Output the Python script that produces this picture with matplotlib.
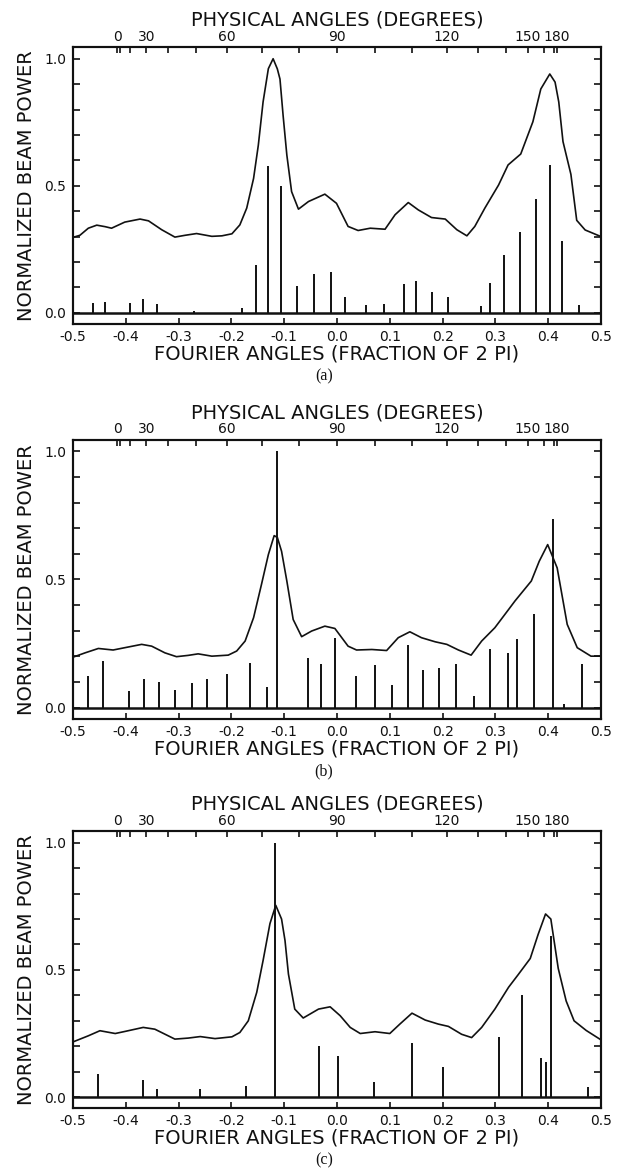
import numpy as np
import matplotlib
matplotlib.use("Agg")
import matplotlib.pyplot as plt

# ---------------- data ----------------
fourier_ticks = [-0.5, -0.4, -0.3, -0.2, -0.1, 0.0, 0.1, 0.2, 0.3, 0.4, 0.5]
fourier_labels = ["-0.5", "-0.4", "-0.3", "-0.2", "-0.1", "0.0", "0.1", "0.2", "0.3", "0.4", "0.5"]
power_ticks = [0.0, 0.5, 1.0]
power_labels = ["0.0", "0.5", "1.0"]
phys_major = [0, 30, 60, 90, 120, 150, 180]
phys_major_labels = ["0", "30", "60", "90", "120", "150", "180"]
phys_minor = [10, 20, 40, 50, 70, 80, 100, 110, 130, 140, 160, 170]
ELEMENT_SPACING = 5.0 / 12.0   # fourier angle = -spacing * cos(physical angle)

# panel (a)
a_curve_u = [-0.500, -0.487, -0.471, -0.455, -0.439, -0.427, -0.402, -0.373, -0.357, -0.332,
             -0.307, -0.288, -0.266, -0.237, -0.218, -0.199, -0.184, -0.171, -0.158, -0.149,
             -0.140, -0.130, -0.121, -0.113, -0.108, -0.102, -0.095, -0.086, -0.073, -0.054,
             -0.023, -0.001, 0.021, 0.040, 0.063, 0.091, 0.110, 0.135, 0.154, 0.179,
             0.205, 0.227, 0.246, 0.261, 0.280, 0.306, 0.324, 0.348, 0.371, 0.386,
             0.403, 0.413, 0.420, 0.428, 0.443, 0.454, 0.470, 0.500]
a_curve_v = [0.297, 0.305, 0.333, 0.345, 0.339, 0.333, 0.357, 0.369, 0.362, 0.327,
             0.298, 0.305, 0.312, 0.301, 0.303, 0.311, 0.346, 0.412, 0.529, 0.660,
             0.830, 0.961, 1.000, 0.960, 0.920, 0.775, 0.621, 0.477, 0.408, 0.438,
             0.467, 0.431, 0.340, 0.324, 0.333, 0.329, 0.386, 0.434, 0.405, 0.375,
             0.369, 0.327, 0.303, 0.340, 0.412, 0.503, 0.582, 0.625, 0.752, 0.881,
             0.940, 0.908, 0.830, 0.674, 0.545, 0.364, 0.326, 0.300]
a_bar_u = [-0.463, -0.439, -0.392, -0.368, -0.340, -0.271, -0.180, -0.153, -0.130, -0.106,
           -0.075, -0.044, -0.012, 0.015, 0.054, 0.089, 0.127, 0.149, 0.180, 0.211,
           0.273, 0.289, 0.317, 0.347, 0.376, 0.404, 0.427, 0.459]
a_bar_v = [0.040, 0.044, 0.040, 0.053, 0.034, 0.007, 0.020, 0.187, 0.576, 0.498,
           0.107, 0.153, 0.161, 0.064, 0.030, 0.033, 0.115, 0.124, 0.080, 0.064,
           0.025, 0.118, 0.228, 0.317, 0.448, 0.581, 0.283, 0.031]

# panel (b)
b_curve_u = [-0.500, -0.477, -0.452, -0.424, -0.402, -0.370, -0.351, -0.326, -0.304, -0.282,
             -0.263, -0.237, -0.206, -0.190, -0.174, -0.158, -0.143, -0.130, -0.119, -0.113,
             -0.105, -0.095, -0.083, -0.067, -0.048, -0.023, -0.004, 0.021, 0.037, 0.066,
             0.094, 0.116, 0.138, 0.160, 0.186, 0.208, 0.230, 0.254, 0.274, 0.299,
             0.325, 0.337, 0.368, 0.383, 0.399, 0.417, 0.436, 0.455, 0.481, 0.500]
b_curve_v = [0.197, 0.214, 0.231, 0.225, 0.234, 0.247, 0.240, 0.214, 0.199, 0.204,
             0.210, 0.201, 0.205, 0.221, 0.260, 0.351, 0.481, 0.597, 0.671, 0.664,
             0.610, 0.494, 0.344, 0.277, 0.299, 0.318, 0.309, 0.240, 0.225, 0.227,
             0.223, 0.273, 0.296, 0.273, 0.257, 0.247, 0.225, 0.205, 0.260, 0.312,
             0.383, 0.416, 0.494, 0.571, 0.636, 0.545, 0.325, 0.234, 0.201, 0.201]
b_bar_u = [-0.471, -0.444, -0.393, -0.365, -0.338, -0.306, -0.275, -0.247, -0.208, -0.165,
           -0.133, -0.113, -0.054, -0.030, -0.004, 0.036, 0.072, 0.105, 0.135, 0.162,
           0.194, 0.225, 0.260, 0.290, 0.323, 0.341, 0.373, 0.409, 0.430, 0.464]
b_bar_v = [0.123, 0.182, 0.065, 0.113, 0.100, 0.071, 0.097, 0.113, 0.132, 0.173,
           0.082, 1.000, 0.192, 0.171, 0.273, 0.123, 0.165, 0.088, 0.244, 0.149,
           0.153, 0.171, 0.045, 0.230, 0.214, 0.266, 0.364, 0.737, 0.013, 0.171]

# panel (c)
c_curve_u = [-0.500, -0.471, -0.449, -0.420, -0.402, -0.367, -0.345, -0.307, -0.282, -0.259,
             -0.231, -0.199, -0.184, -0.168, -0.152, -0.140, -0.127, -0.116, -0.105, -0.0985,
             -0.092, -0.080, -0.064, -0.035, -0.013, 0.006, 0.025, 0.044, 0.072, 0.100,
             0.119, 0.142, 0.167, 0.192, 0.211, 0.236, 0.255, 0.274, 0.299, 0.325,
             0.343, 0.366, 0.381, 0.395, 0.405, 0.419, 0.434, 0.449, 0.472, 0.500]
c_curve_v = [0.217, 0.241, 0.261, 0.250, 0.258, 0.274, 0.267, 0.228, 0.232, 0.238,
             0.230, 0.237, 0.254, 0.300, 0.412, 0.537, 0.682, 0.754, 0.700, 0.616,
             0.484, 0.346, 0.311, 0.346, 0.355, 0.320, 0.274, 0.250, 0.257, 0.250,
             0.287, 0.330, 0.303, 0.287, 0.278, 0.247, 0.234, 0.274, 0.346, 0.432,
             0.481, 0.545, 0.640, 0.720, 0.700, 0.506, 0.378, 0.300, 0.262, 0.225]
c_bar_u = [-0.452, -0.368, -0.341, -0.259, -0.173, -0.117, -0.034, 0.001, 0.070, 0.142,
           0.200, 0.307, 0.351, 0.387, 0.396, 0.405, 0.475]
c_bar_v = [0.090, 0.067, 0.033, 0.033, 0.043, 1.000, 0.199, 0.162, 0.058, 0.214,
           0.120, 0.237, 0.403, 0.152, 0.139, 0.634, 0.039]

captions = ["(a)", "(b)", "(c)"]
top_title = "PHYSICAL ANGLES (DEGREES)"
bottom_title = "FOURIER ANGLES (FRACTION OF 2 PI)"
y_title = "NORMALIZED BEAM POWER"

panels = [
    (a_curve_u, a_curve_v, a_bar_u, a_bar_v),
    (b_curve_u, b_curve_v, b_bar_u, b_bar_v),
    (c_curve_u, c_curve_v, c_bar_u, c_bar_v),
]

# ---------------- layout ----------------
W, H = 629, 1173
fig = plt.figure(figsize=(W / 100, H / 100), dpi=100)
plt.rcParams["font.family"] = ["DejaVu Sans"]

left_px, right_px = 73, 601
tops_px = [47.3, 439.7, 831.3]
bottoms_px = [324.0, 719.0, 1108.3]
px2pt = 0.72

label_fs = 14
tick_fs = 10
ink = "#111111"

for i, (cu, cv, bu, bv) in enumerate(panels):
    t, b = tops_px[i], bottoms_px[i]
    ax = fig.add_axes([left_px / W, 1 - b / H, (right_px - left_px) / W, (b - t) / H])
    ax.set_xlim(-0.5, 0.5)
    ax.set_ylim(-0.044, 1.045)

    # beam power curve and the bars
    ax.plot(cu, cv, color=ink, lw=1.2, solid_joinstyle="round")
    ax.vlines(bu, 0, bv, color=ink, lw=1.4)
    ax.axhline(0, color=ink, lw=1.8)

    for sp in ax.spines.values():
        sp.set_linewidth(1.5)
        sp.set_color(ink)

    ax.set_xticks(fourier_ticks)
    ax.set_xticklabels(fourier_labels, fontsize=tick_fs)
    ax.set_yticks(np.arange(0, 1.01, 0.1), minor=True)
    ax.set_yticks(power_ticks)
    ax.set_yticklabels(power_labels, fontsize=tick_fs)
    ax.tick_params(axis="x", direction="in", length=4, width=1.2, pad=4, top=False, colors=ink)
    ax.tick_params(axis="y", which="both", direction="in", length=5, width=1.2, pad=5,
                   left=True, right=True, colors=ink)

    # physical angle axis on top
    ax2 = ax.twiny()
    ax2.set_xlim(ax.get_xlim())
    ax2.set_xticks([-ELEMENT_SPACING * np.cos(np.radians(d)) for d in phys_major])
    ax2.set_xticklabels(phys_major_labels, fontsize=tick_fs)
    ax2.set_xticks([-ELEMENT_SPACING * np.cos(np.radians(d)) for d in phys_minor], minor=True)
    ax2.tick_params(axis="x", which="both", direction="in", length=4, width=1.2, pad=2.5,
                    colors=ink)
    for sp in ax2.spines.values():
        sp.set_linewidth(1.5)
        sp.set_color(ink)

    ax.annotate(top_title, xy=(0.5, 1), xycoords="axes fraction",
                xytext=(0, 27 * px2pt), textcoords="offset points",
                ha="center", va="center", fontsize=label_fs, color=ink)
    ax.annotate(bottom_title, xy=(0.5, 0), xycoords="axes fraction",
                xytext=(0, -30 * px2pt), textcoords="offset points",
                ha="center", va="center", fontsize=label_fs, color=ink)
    ax.annotate(y_title, xy=(0, 0.5), xycoords="axes fraction",
                xytext=(-47 * px2pt, 0), textcoords="offset points",
                ha="center", va="center", rotation=90, fontsize=label_fs, color=ink)
    ax.annotate(captions[i], xy=(324 / W, 1 - (b + 52) / H), xycoords="figure fraction",
                ha="center", va="center", fontsize=11.5, color=ink,
                family=["Liberation Serif", "DejaVu Serif"])

fig.savefig("out.png", dpi=100, facecolor="white")
